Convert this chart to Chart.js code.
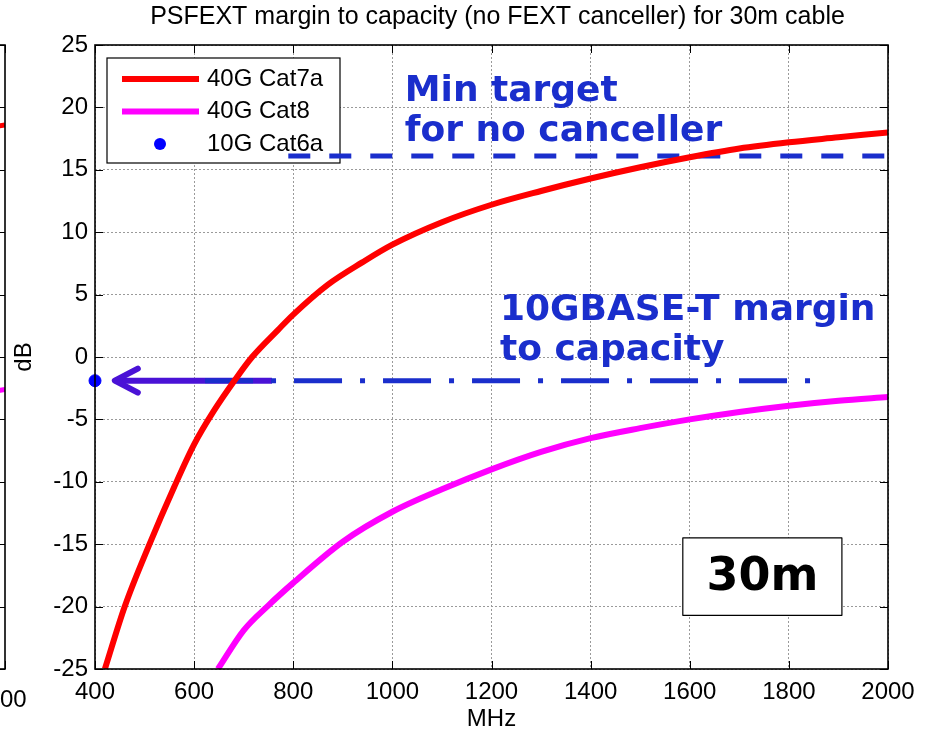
<!DOCTYPE html>
<html>
<head>
<meta charset="utf-8">
<script src="https://cdn.jsdelivr.net/npm/chart.js@4.4.0/dist/chart.umd.min.js"></script>
<style>
  body { margin: 0; background: #fff; }
  #wrap { position: relative; width: 932px; height: 734px; overflow: hidden; }
  #prev-chart { position: absolute; left: -151px; top: 0; }
  #margin-chart { position: absolute; left: 0; top: 0; }
</style>
</head>
<body>
<div id="wrap">
  <canvas id="prev-chart" width="200" height="734"></canvas>
  <canvas id="margin-chart" width="932" height="734"></canvas>
</div>
<script>
// 40G Cat7a, 30m
const cat7aMHz = [420, 460, 510, 560, 600, 640, 683, 717, 770, 800, 870, 940, 1000, 1100, 1200, 1300, 1400, 1500, 1600, 1700, 1800, 1900, 2000];
const cat7aDb  = [-25, -20, -15, -10.4, -7.0, -4.3, -1.8, 0, 2.2, 3.4, 5.8, 7.6, 9.0, 10.8, 12.2, 13.3, 14.3, 15.2, 16.0, 16.7, 17.2, 17.6, 18.0];
// 40G Cat8, 30m
const cat8MHz = [648, 700, 750, 800, 900, 1000, 1100, 1200, 1300, 1400, 1500, 1600, 1700, 1800, 1900, 2000];
const cat8Db  = [-25, -21.9, -19.9, -18.1, -14.8, -12.4, -10.6, -9.0, -7.6, -6.5, -5.7, -5.0, -4.4, -3.9, -3.5, -3.2];
// 10G Cat6a
const cat6aMHz = [400];
const cat6aDb  = [-1.9];
// reference lines
const minTargetMHz = [790, 2000];
const minTargetDb  = [16.1, 16.1];
const tenGMarginMHz = [622, 1852];
const tenGMarginDb  = [-1.9, -1.9];
const arrowMHz = [440, 757];
const arrowDb  = [-1.9, -1.9];
// neighbouring panel, only its right edge is visible
const prevMHz = [1950, 2000];
const prevCat7aDb = [18.4, 18.6];
const prevCat8Db  = [-2.8, -2.6];

const xTicks = [400, 600, 800, 1000, 1200, 1400, 1600, 1800, 2000];
const prevXTicks = [1800, 2000];
const yTicks = [-25, -20, -15, -10, -5, 0, 5, 10, 15, 20, 25];

const titleText = 'PSFEXT margin to capacity (no FEXT canceller) for 30m cable';

// text notes, placed in data units
const notes = [
    { lines: ['Min target', 'for no canceller'], x: 1025, y: 20.5 },
    { lines: ['10GBASE-T margin', 'to capacity'], x: 1217, y: 3.0 }
];
const distanceBox = { text: '30m', x0: 1586, x1: 1907, y0: -14.5, y1: -20.7 };

const BLUE = '#1a2ecc';
const PURPLE = '#4a12d6';
const FONT = '"Liberation Sans", Arial, sans-serif';

Chart.defaults.font.family = FONT;
Chart.defaults.color = '#000';

function points(xs, ys) {
    return xs.map(function(x, i) { return { x: x, y: ys[i] }; });
}

// box round the plot and MATLAB style inward ticks
const matlabFrame = {
    id: 'matlabFrame',
    afterDatasetsDraw: function(chart) {
        const ctx = chart.ctx;
        const a = chart.chartArea;
        const xs = chart.scales.x, ys = chart.scales.y;
        ctx.save();
        ctx.strokeStyle = '#000';
        ctx.lineWidth = 1;
        ctx.beginPath();
        xs.ticks.forEach(function(t) {
            const px = Math.round(xs.getPixelForValue(t.value)) + 0.5;
            ctx.moveTo(px, a.bottom); ctx.lineTo(px, a.bottom - 8);
            ctx.moveTo(px, a.top); ctx.lineTo(px, a.top + 8);
        });
        ys.ticks.forEach(function(t) {
            const py = Math.round(ys.getPixelForValue(t.value)) + 0.5;
            ctx.moveTo(a.left, py); ctx.lineTo(a.left + 8, py);
            ctx.moveTo(a.right, py); ctx.lineTo(a.right - 8, py);
        });
        ctx.stroke();
        ctx.lineWidth = 1.6;
        ctx.strokeRect(a.left, a.top, a.right - a.left, a.bottom - a.top);
        ctx.restore();
    }
};

const legendBox = {
    id: 'legendBox',
    beforeDatasetsDraw: function(chart) {
        const ctx = chart.ctx;
        const a = chart.chartArea;
        const x0 = a.left + 12, y0 = a.top + 13, w = 233, h = 105;
        ctx.save();
        ctx.fillStyle = '#fff';
        ctx.fillRect(x0, y0, w, h);
        ctx.strokeStyle = '#000';
        ctx.lineWidth = 1.2;
        ctx.strokeRect(x0, y0, w, h);
        ctx.font = '24px ' + FONT;
        ctx.textBaseline = 'middle';
        for (let i = 0; i < 3; i++) {
            const ds = chart.data.datasets[i];
            const cy = y0 + 21 + i * 32.5;
            if (ds.showLine) {
                ctx.strokeStyle = ds.borderColor;
                ctx.lineWidth = ds.borderWidth;
                ctx.beginPath();
                ctx.moveTo(x0 + 15, cy); ctx.lineTo(x0 + 92, cy);
                ctx.stroke();
            } else {
                ctx.fillStyle = ds.backgroundColor;
                ctx.beginPath();
                ctx.arc(x0 + 53, cy, ds.pointRadius, 0, Math.PI * 2);
                ctx.fill();
            }
            ctx.fillStyle = '#000';
            ctx.fillText(ds.label, x0 + 100, cy);
        }
        ctx.restore();
    }
};

const annotations = {
    id: 'annotations',
    afterDraw: function(chart) {
        const ctx = chart.ctx;
        const a = chart.chartArea;
        const xs = chart.scales.x, ys = chart.scales.y;
        ctx.save();
        // title, centred a little right of the plot centre as in the figure
        ctx.font = '25px ' + FONT;
        ctx.fillStyle = '#000';
        ctx.textAlign = 'center';
        ctx.textBaseline = 'middle';
        ctx.fillText(titleText, (a.left + a.right) / 2 + 6, 17);

        // arrow head on the 10GBASE-T line
        const tipX = xs.getPixelForValue(arrowMHz[0]);
        const tipY = ys.getPixelForValue(arrowDb[0]);
        ctx.strokeStyle = PURPLE;
        ctx.lineWidth = 6;
        ctx.lineCap = 'round';
        ctx.lineJoin = 'round';
        ctx.beginPath();
        ctx.moveTo(tipX + 23, tipY - 12);
        ctx.lineTo(tipX, tipY);
        ctx.lineTo(tipX + 23, tipY + 12);
        ctx.stroke();

        ctx.font = 'bold 36px "DejaVu Sans", sans-serif';
        ctx.fillStyle = BLUE;
        ctx.textAlign = 'left';
        ctx.textBaseline = 'alphabetic';
        notes.forEach(function(n) {
            const px = xs.getPixelForValue(n.x);
            const py = ys.getPixelForValue(n.y);
            n.lines.forEach(function(line, i) {
                ctx.fillText(line, px, py + i * 40);
            });
        });

        const bx0 = xs.getPixelForValue(distanceBox.x0), bx1 = xs.getPixelForValue(distanceBox.x1);
        const by0 = ys.getPixelForValue(distanceBox.y0), by1 = ys.getPixelForValue(distanceBox.y1);
        ctx.fillStyle = '#fff';
        ctx.fillRect(bx0, by0, bx1 - bx0, by1 - by0);
        ctx.strokeStyle = '#000';
        ctx.lineWidth = 1.2;
        ctx.strokeRect(bx0, by0, bx1 - bx0, by1 - by0);
        ctx.fillStyle = '#000';
        ctx.font = 'bold 46px "DejaVu Sans", sans-serif';
        ctx.textAlign = 'center';
        ctx.textBaseline = 'middle';
        ctx.fillText(distanceBox.text, (bx0 + bx1) / 2, (by0 + by1) / 2 + 1);
        ctx.restore();
    }
};

// neighbouring panel, cropped on the left edge
new Chart(document.getElementById('prev-chart'), {
    type: 'scatter',
    data: {
        datasets: [
            { data: points(prevMHz, prevCat7aDb), showLine: true, borderColor: '#ff0000', borderWidth: 5, pointRadius: 0 },
            { data: points(prevMHz, prevCat8Db), showLine: true, borderColor: '#ff00ff', borderWidth: 5, pointRadius: 0 }
        ]
    },
    options: {
        responsive: false,
        animation: false,
        layout: { padding: { top: 45, right: 44, bottom: 0, left: 0 } },
        plugins: { legend: { display: false }, tooltip: { enabled: false } },
        scales: {
            x: {
                type: 'linear', min: 1800, max: 2000,
                afterBuildTicks: function(s) { s.ticks = prevXTicks.map(function(v) { return { value: v }; }); },
                afterFit: function(s) { s.height = 65; },
                grid: { display: false },
                border: { display: false },
                ticks: { font: { size: 24 }, padding: 9, labelOffset: -5, maxRotation: 0, autoSkip: false, callback: function(v) { return String(v); } }
            },
            y: {
                min: -25, max: 25,
                afterBuildTicks: function(s) { s.ticks = yTicks.map(function(v) { return { value: v }; }); },
                afterFit: function(s) { s.width = 95; },
                grid: { display: false },
                border: { display: false },
                ticks: { display: false }
            }
        }
    },
    plugins: [matlabFrame]
});

new Chart(document.getElementById('margin-chart'), {
    type: 'scatter',
    data: {
        datasets: [
            { label: '40G Cat7a', data: points(cat7aMHz, cat7aDb), showLine: true, cubicInterpolationMode: 'monotone', borderColor: '#ff0000', borderWidth: 6, pointRadius: 0, order: 1 },
            { label: '40G Cat8', data: points(cat8MHz, cat8Db), showLine: true, cubicInterpolationMode: 'monotone', borderColor: '#ff00ff', borderWidth: 6, pointRadius: 0, order: 2 },
            { label: '10G Cat6a', data: points(cat6aMHz, cat6aDb), backgroundColor: '#0000ff', borderColor: '#0000ff', pointRadius: 6, clip: false, order: 0 },
            { label: 'Min target', data: points(minTargetMHz, minTargetDb), showLine: true, borderColor: BLUE, borderWidth: 5, borderDash: [22, 19], pointRadius: 0, order: 3 },
            { label: '10GBASE-T margin', data: points(tenGMarginMHz, tenGMarginDb), showLine: true, borderColor: BLUE, borderWidth: 5, borderDash: [48, 18, 5, 18], pointRadius: 0, order: 4 },
            { label: 'arrow', data: points(arrowMHz, arrowDb), showLine: true, borderColor: PURPLE, borderWidth: 6, pointRadius: 0, order: 5 }
        ]
    },
    options: {
        responsive: false,
        animation: false,
        layout: { padding: { top: 45, right: 44, bottom: 0, left: 0 } },
        plugins: {
            legend: { display: false },
            tooltip: { enabled: false },
            title: { display: false }
        },
        scales: {
            x: {
                type: 'linear', min: 400, max: 2000,
                afterBuildTicks: function(s) { s.ticks = xTicks.map(function(v) { return { value: v }; }); },
                afterFit: function(s) { s.height = 65; },
                grid: { color: '#9a9a9a', drawTicks: false },
                border: { display: false, dash: [2, 2] },
                ticks: { font: { size: 24 }, padding: 9, maxRotation: 0, autoSkip: false, callback: function(v) { return String(v); } },
                title: { display: true, text: 'MHz', font: { size: 24 }, padding: { top: 0, bottom: 0 } }
            },
            y: {
                min: -25, max: 25,
                afterBuildTicks: function(s) { s.ticks = yTicks.map(function(v) { return { value: v }; }); },
                afterFit: function(s) { s.width = 95; },
                grid: { color: '#9a9a9a', drawTicks: false },
                border: { display: false, dash: [2, 2] },
                ticks: { font: { size: 24 }, padding: 7, callback: function(v) { return String(v); } },
                title: { display: true, text: 'dB', font: { size: 24 }, padding: { top: 10, bottom: 0 } }
            }
        }
    },
    plugins: [matlabFrame, legendBox, annotations]
});
</script>
</body>
</html>
